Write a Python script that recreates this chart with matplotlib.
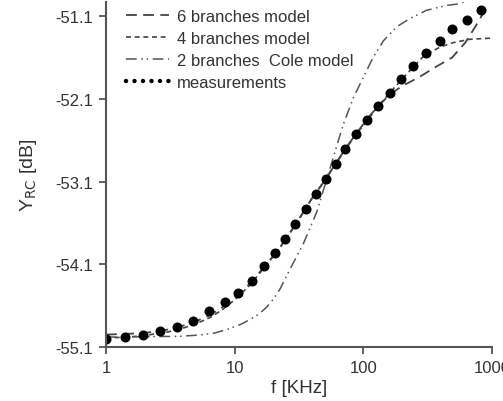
import matplotlib
matplotlib.use("Agg")
import matplotlib.pyplot as plt
from matplotlib.lines import Line2D
from matplotlib.ticker import FixedLocator, NullLocator, FixedFormatter

plt.rcParams['font.family'] = ['Liberation Sans', 'DejaVu Sans']

# measurements
meas_f = [1.0, 1.40, 1.95, 2.62, 3.57, 4.75, 6.32, 8.36, 10.7, 13.7, 16.9, 20.5, 24.7,
          29.7, 35.9, 43.2, 51.7, 61.4, 72.5, 87.2, 106, 129, 161, 197, 244, 306,
          391, 493, 637, 822]
meas_y = [-55.00, -54.98, -54.95, -54.91, -54.86, -54.78, -54.67, -54.56, -54.45,
          -54.30, -54.12, -53.96, -53.79, -53.61, -53.43, -53.25, -53.07, -52.89,
          -52.71, -52.53, -52.36, -52.19, -52.03, -51.86, -51.70, -51.55, -51.40,
          -51.26, -51.15, -51.02]

# 6 branches model
m6_f = [1, 1.5, 2, 3, 4, 5, 6.5, 8, 10, 13, 17, 22, 30, 40, 50, 60, 75, 90, 110,
        130, 160, 200, 270, 360, 490, 620, 740, 880, 950]
m6_y = [-54.95, -54.94, -54.93, -54.89, -54.84, -54.79, -54.71, -54.62, -54.50,
        -54.34, -54.13, -53.92, -53.61, -53.30, -53.09, -52.90, -52.67, -52.50,
        -52.32, -52.19, -52.05, -51.945, -51.84, -51.72, -51.60, -51.42, -51.23,
        -51.03, -50.97]

# 4 branches model
m4_f = [1, 1.5, 2, 3, 4, 5, 6.5, 8, 10, 13, 17, 22, 30, 40, 50, 60, 75, 90, 110,
        130, 160, 200, 250, 300, 400, 500, 670, 1000]
m4_y = [-54.99, -54.98, -54.96, -54.92, -54.87, -54.82, -54.74, -54.65, -54.53,
        -54.36, -54.14, -53.92, -53.61, -53.30, -53.09, -52.90, -52.68, -52.51,
        -52.34, -52.19, -52.03, -51.86, -51.70, -51.57, -51.47, -51.42, -51.38,
        -51.365]

# 2 branches Cole model
cole_f = [1, 2.2, 3.76, 5.36, 7.0, 8.67, 11.0, 13.1, 15.5, 17.7, 20.0, 22.5, 26.9,
          34.0, 43.4, 55.1, 69.5, 83.5, 100, 119, 143, 181, 230, 309, 443, 531,
          700, 1000]
cole_y = [-54.98, -54.975, -54.97, -54.955, -54.93, -54.89, -54.83, -54.77, -54.70,
          -54.62, -54.52, -54.40, -54.16, -53.86, -53.47, -52.94, -52.42, -52.09,
          -51.84, -51.60, -51.40, -51.23, -51.13, -51.03, -50.97, -50.955, -50.90,
          -50.88]

yticks = [-55.1, -54.1, -53.1, -52.1, -51.1]
ytick_labels = ['-55.1', '-54.1', '-53.1', '-52.1', '-51.1']
xticks = [1, 10, 100, 1000]
xtick_labels = ['1', '10', '100', '1000']

fig = plt.figure(figsize=(5.03, 4.02), dpi=100)
ax = fig.add_axes([0.2107, 0.1343, 0.7674, 0.858])

c_line = '#444444'
ax.plot(m6_f, m6_y, color=c_line, lw=1.3, linestyle=(0, (6, 3.5)))
ax.plot(m4_f, m4_y, color=c_line, lw=1.2, linestyle=(0, (3, 2.2)))
ax.plot(cole_f, cole_y, color='#555555', lw=1.1, linestyle=(0, (7, 3, 1, 2.5, 1, 3)))
ax.plot(meas_f, meas_y, linestyle='none', marker='o', ms=6.2, color='black')

ax.set_xscale('log')
ax.set_xlim(1, 1000)
ax.set_ylim(-55.1, -50.93)
ax.xaxis.set_major_locator(FixedLocator(xticks))
ax.xaxis.set_major_formatter(FixedFormatter(xtick_labels))
ax.xaxis.set_minor_locator(NullLocator())
ax.set_yticks(yticks)
ax.set_yticklabels(ytick_labels)

for s in ['top', 'right']:
    ax.spines[s].set_visible(False)
for s in ['left', 'bottom']:
    ax.spines[s].set_color('#555555')
    ax.spines[s].set_linewidth(1.5)

ax.tick_params(axis='both', direction='out', length=5, width=1.3, color='#555555',
               labelsize=12, labelcolor='#333333')
ax.tick_params(axis='y', pad=4)
ax.tick_params(axis='x', pad=4.5)

ax.set_xlabel('f [KHz]', fontsize=13.5, color='#333333', labelpad=3)
ax.set_ylabel(r'Y$_{\mathrm{RC}}$ [dB]', fontsize=14, color='#333333', labelpad=12)

handles = [
    Line2D([], [], color=c_line, lw=1.3, linestyle=(0, (6, 3.5))),
    Line2D([], [], color=c_line, lw=1.2, linestyle=(0, (3, 2.2))),
    Line2D([], [], color='#555555', lw=1.1, linestyle=(0, (7, 3, 1, 2.5, 1, 3))),
    Line2D([], [], color='black', lw=3.2, linestyle=(0, (0.01, 1.9)),
           dash_capstyle='round'),
]
labels = ['6 branches model', '4 branches model', '2 branches  Cole model', 'measurements']
leg = ax.legend(handles, labels, loc='upper left', bbox_to_anchor=(0.035, 1.0),
                frameon=False, fontsize=12, handlelength=2.6, handletextpad=0.45,
                labelspacing=0.43, borderaxespad=0)
for t in leg.get_texts():
    t.set_color('#333333')

fig.savefig('out.png', dpi=100)
